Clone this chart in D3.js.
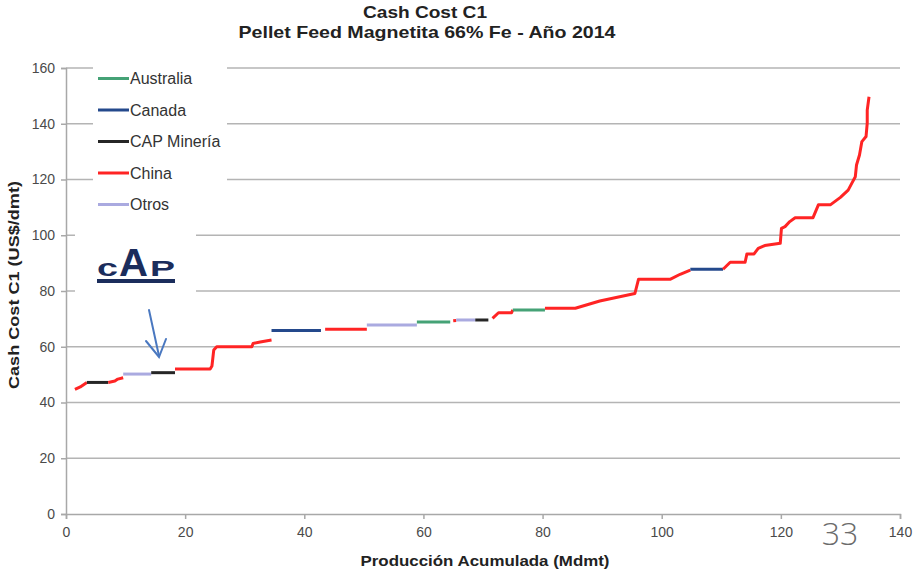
<!DOCTYPE html>
<html>
<head>
<meta charset="utf-8">
<script src="https://cdn.jsdelivr.net/npm/d3@7"></script>
<style>
	body { margin: 0; background: #fff; }
	text { font-family: "Liberation Sans", Arial, sans-serif; }
</style>
</head>
<body>
<div id="chart"></div>
<script>
// chart data
// ==========
var countries = ["Australia", "Canada", "CAP Minería", "China", "Otros"];
var countryColors = ["#45a276", "#24498c", "#262626", "#ff2424", "#aaaae0"];

var xTicks = [0, 20, 40, 60, 80, 100, 120, 140];
var yTicks = [0, 20, 40, 60, 80, 100, 120, 140, 160];

// one entry per curve segment
var segCountry = ["China", "CAP Minería", "China", "Otros", "CAP Minería", "China", "Canada", "China", "Otros",
	"Australia", "China", "Otros", "CAP Minería", "China", "Australia", "China", "Canada", "China"];

var segProd = [
	[1.5, 2.4, 3.5],
	[3.5, 7.1],
	[7.1, 8.2, 8.7, 9.6],
	[9.6, 14.3],
	[14.3, 18.3],
	[18.3, 24.2, 24.5, 24.8, 25.3, 31.2, 31.4, 32.6, 34.5],
	[34.5, 42.8],
	[43.5, 50.5],
	[50.5, 58.9],
	[58.9, 64.5],
	[65.0, 65.5],
	[65.5, 68.7],
	[68.7, 70.9],
	[71.6, 72.6, 74.8, 75.0],
	[75.0, 80.4],
	[80.4, 85.5, 89.6, 95.5, 96.1, 101.4, 103.1, 104.8],
	[104.8, 110.3],
	[110.3, 111.5, 114.0, 114.3, 115.5, 116.2, 117.3, 119.9, 120.1, 120.7, 121.5, 122.4, 125.4, 126.3, 128.3,
		130.0, 131.3, 131.9, 132.5, 132.7, 133.2, 133.6, 134.3, 134.5, 134.5, 134.8]
];

var segCost = [
	[44.7, 45.6, 47.2],
	[47.2, 47.2],
	[47.2, 47.7, 48.4, 48.9],
	[50.2, 50.2],
	[50.7, 50.7],
	[52.0, 52.0, 53.1, 58.8, 60.0, 60.0, 61.2, 61.7, 62.4],
	[65.8, 65.8],
	[66.3, 66.3],
	[67.8, 67.8],
	[68.9, 68.9],
	[69.3, 69.4],
	[69.6, 69.6],
	[69.6, 69.6],
	[70.2, 72.2, 72.2, 73.2],
	[73.2, 73.2],
	[73.8, 73.8, 76.4, 79.1, 84.2, 84.2, 86.0, 87.5],
	[87.8, 87.8],
	[87.8, 90.3, 90.3, 93.3, 93.3, 95.3, 96.3, 97.1, 102.5, 103.1, 104.9, 106.3, 106.3, 110.9, 110.9,
		113.6, 116.2, 118.6, 121.0, 125.2, 128.8, 133.6, 135.4, 140.2, 144.9, 149.7]
];

// svg + margins
// =============
var svgWidth = 922;
var svgHeight = 576;

var margin = { top: 68, right: 22, bottom: 62, left: 66 };
var width = svgWidth - margin.left - margin.right;
var height = svgHeight - margin.top - margin.bottom;

var svg = d3.select("#chart")
	.append("svg")
	.attr("width", svgWidth)
	.attr("height", svgHeight);

var chartGroup = svg.append("g")
	.attr("transform", `translate(${margin.left}, ${margin.top})`);

var xScale = d3.scaleLinear().domain([0, 140]).range([0, width]);
var yScale = d3.scaleLinear().domain([0, 160]).range([height, 0]);
var colorScale = d3.scaleOrdinal().domain(countries).range(countryColors);

// gridlines
chartGroup.append("g")
	.selectAll("line")
	.data(yTicks.filter(d => d > 0))
	.enter()
	.append("line")
	.attr("x1", 0)
	.attr("x2", width)
	.attr("y1", d => yScale(d))
	.attr("y2", d => yScale(d))
	.attr("stroke", "#b4b4b4")
	.attr("stroke-width", 1.5);

// axes
var bottomAxis = d3.axisBottom(xScale).tickValues(xTicks).tickSize(5).tickPadding(8);
var leftAxis = d3.axisLeft(yScale).tickValues(yTicks).tickSize(5).tickPadding(6);

var xAxis = chartGroup.append("g")
	.attr("transform", `translate(0, ${height})`)
	.call(bottomAxis);

var yAxis = chartGroup.append("g")
	.call(leftAxis);

[xAxis, yAxis].forEach(function (ax) {
	ax.select(".domain").attr("stroke", "#a8a8a8").attr("stroke-width", 1.5);
	ax.selectAll(".tick line").attr("stroke", "#a8a8a8").attr("stroke-width", 1.5);
	ax.selectAll(".tick text")
		.attr("fill", "#4a4a4a")
		.style("font-family", "'Liberation Sans', Arial, sans-serif")
		.style("font-size", "14px");
});

// white boxes (legend + logo) sitting on top of the grid
svg.append("rect").attr("x", 93).attr("y", 58).attr("width", 134).attr("height", 166).attr("fill", "#fff");
svg.append("rect").attr("x", 75).attr("y", 226).attr("width", 121).attr("height", 70).attr("fill", "#fff");

// cost curve segments
var line = d3.line()
	.x(d => xScale(d[0]))
	.y(d => yScale(d[1]));

chartGroup.selectAll(".seg")
	.data(segCountry)
	.enter()
	.append("path")
	.attr("class", "seg")
	.attr("d", (c, i) => line(d3.zip(segProd[i], segCost[i])))
	.attr("fill", "none")
	.attr("stroke", c => colorScale(c))
	.attr("stroke-width", 3)
	.attr("stroke-linejoin", "round");

// legend
var legend = svg.append("g")
	.selectAll("g")
	.data(countries)
	.enter()
	.append("g")
	.attr("transform", (d, i) => `translate(98, ${78.5 + i * 31.5})`);

legend.append("line")
	.attr("x1", 0)
	.attr("x2", 31)
	.attr("stroke", d => colorScale(d))
	.attr("stroke-width", 3);

legend.append("text")
	.attr("x", 32)
	.attr("y", 5.5)
	.attr("fill", "#333")
	.style("font-size", "16px")
	.text(d => d);

// CAP logo
var logo = svg.append("g")
	.attr("fill", "#1b2d5c")
	.style("font-family", "'DejaVu Sans', sans-serif")
	.style("font-weight", "bold");

logo.append("text")
	.attr("x", 97).attr("y", 276)
	.attr("textLength", 21).attr("lengthAdjust", "spacingAndGlyphs")
	.style("font-size", "24px")
	.text("c");
logo.append("text")
	.attr("x", 119).attr("y", 276)
	.attr("textLength", 29).attr("lengthAdjust", "spacingAndGlyphs")
	.style("font-size", "38px")
	.text("A");
logo.append("text")
	.attr("x", 150).attr("y", 276)
	.attr("textLength", 25).attr("lengthAdjust", "spacingAndGlyphs")
	.style("font-size", "22px")
	.text("P");
logo.append("rect")
	.attr("x", 97).attr("y", 279)
	.attr("width", 78).attr("height", 4);

// arrow pointing at CAP
var arrow = svg.append("g")
	.attr("stroke", "#4a78c0")
	.attr("stroke-width", 2)
	.attr("fill", "none")
	.attr("stroke-linecap", "round");
arrow.append("line").attr("x1", 149).attr("y1", 310).attr("x2", 159).attr("y2", 356);
arrow.append("polyline").attr("points", "146,341 159,357 166,339");

// titles
svg.append("text")
	.attr("x", 425).attr("y", 18)
	.attr("text-anchor", "middle")
	.attr("textLength", 124).attr("lengthAdjust", "spacingAndGlyphs")
	.style("font-weight", "bold")
	.style("font-size", "17px")
	.attr("fill", "#222")
	.text("Cash Cost C1");

svg.append("text")
	.attr("x", 427).attr("y", 38)
	.attr("text-anchor", "middle")
	.attr("textLength", 377).attr("lengthAdjust", "spacingAndGlyphs")
	.style("font-weight", "bold")
	.style("font-size", "17px")
	.attr("fill", "#222")
	.text("Pellet Feed Magnetita 66% Fe - Año 2014");

svg.append("text")
	.attr("x", 485).attr("y", 566)
	.attr("text-anchor", "middle")
	.attr("textLength", 249).attr("lengthAdjust", "spacingAndGlyphs")
	.style("font-weight", "bold")
	.style("font-size", "15px")
	.attr("fill", "#222")
	.text("Producción Acumulada (Mdmt)");

svg.append("text")
	.attr("transform", "translate(19, 285) rotate(-90)")
	.attr("text-anchor", "middle")
	.attr("textLength", 208).attr("lengthAdjust", "spacingAndGlyphs")
	.style("font-weight", "bold")
	.style("font-size", "14.5px")
	.attr("fill", "#222")
	.text("Cash Cost C1 (US$/dmt)");

// slide number
svg.append("text")
	.attr("x", 840).attr("y", 545)
	.attr("text-anchor", "middle")
	.style("font-family", "'Open Sans', sans-serif")
	.style("font-weight", "300")
	.style("font-size", "32px")
	.attr("fill", "#6b6b6b")
	.text("33");
</script>
</body>
</html>
